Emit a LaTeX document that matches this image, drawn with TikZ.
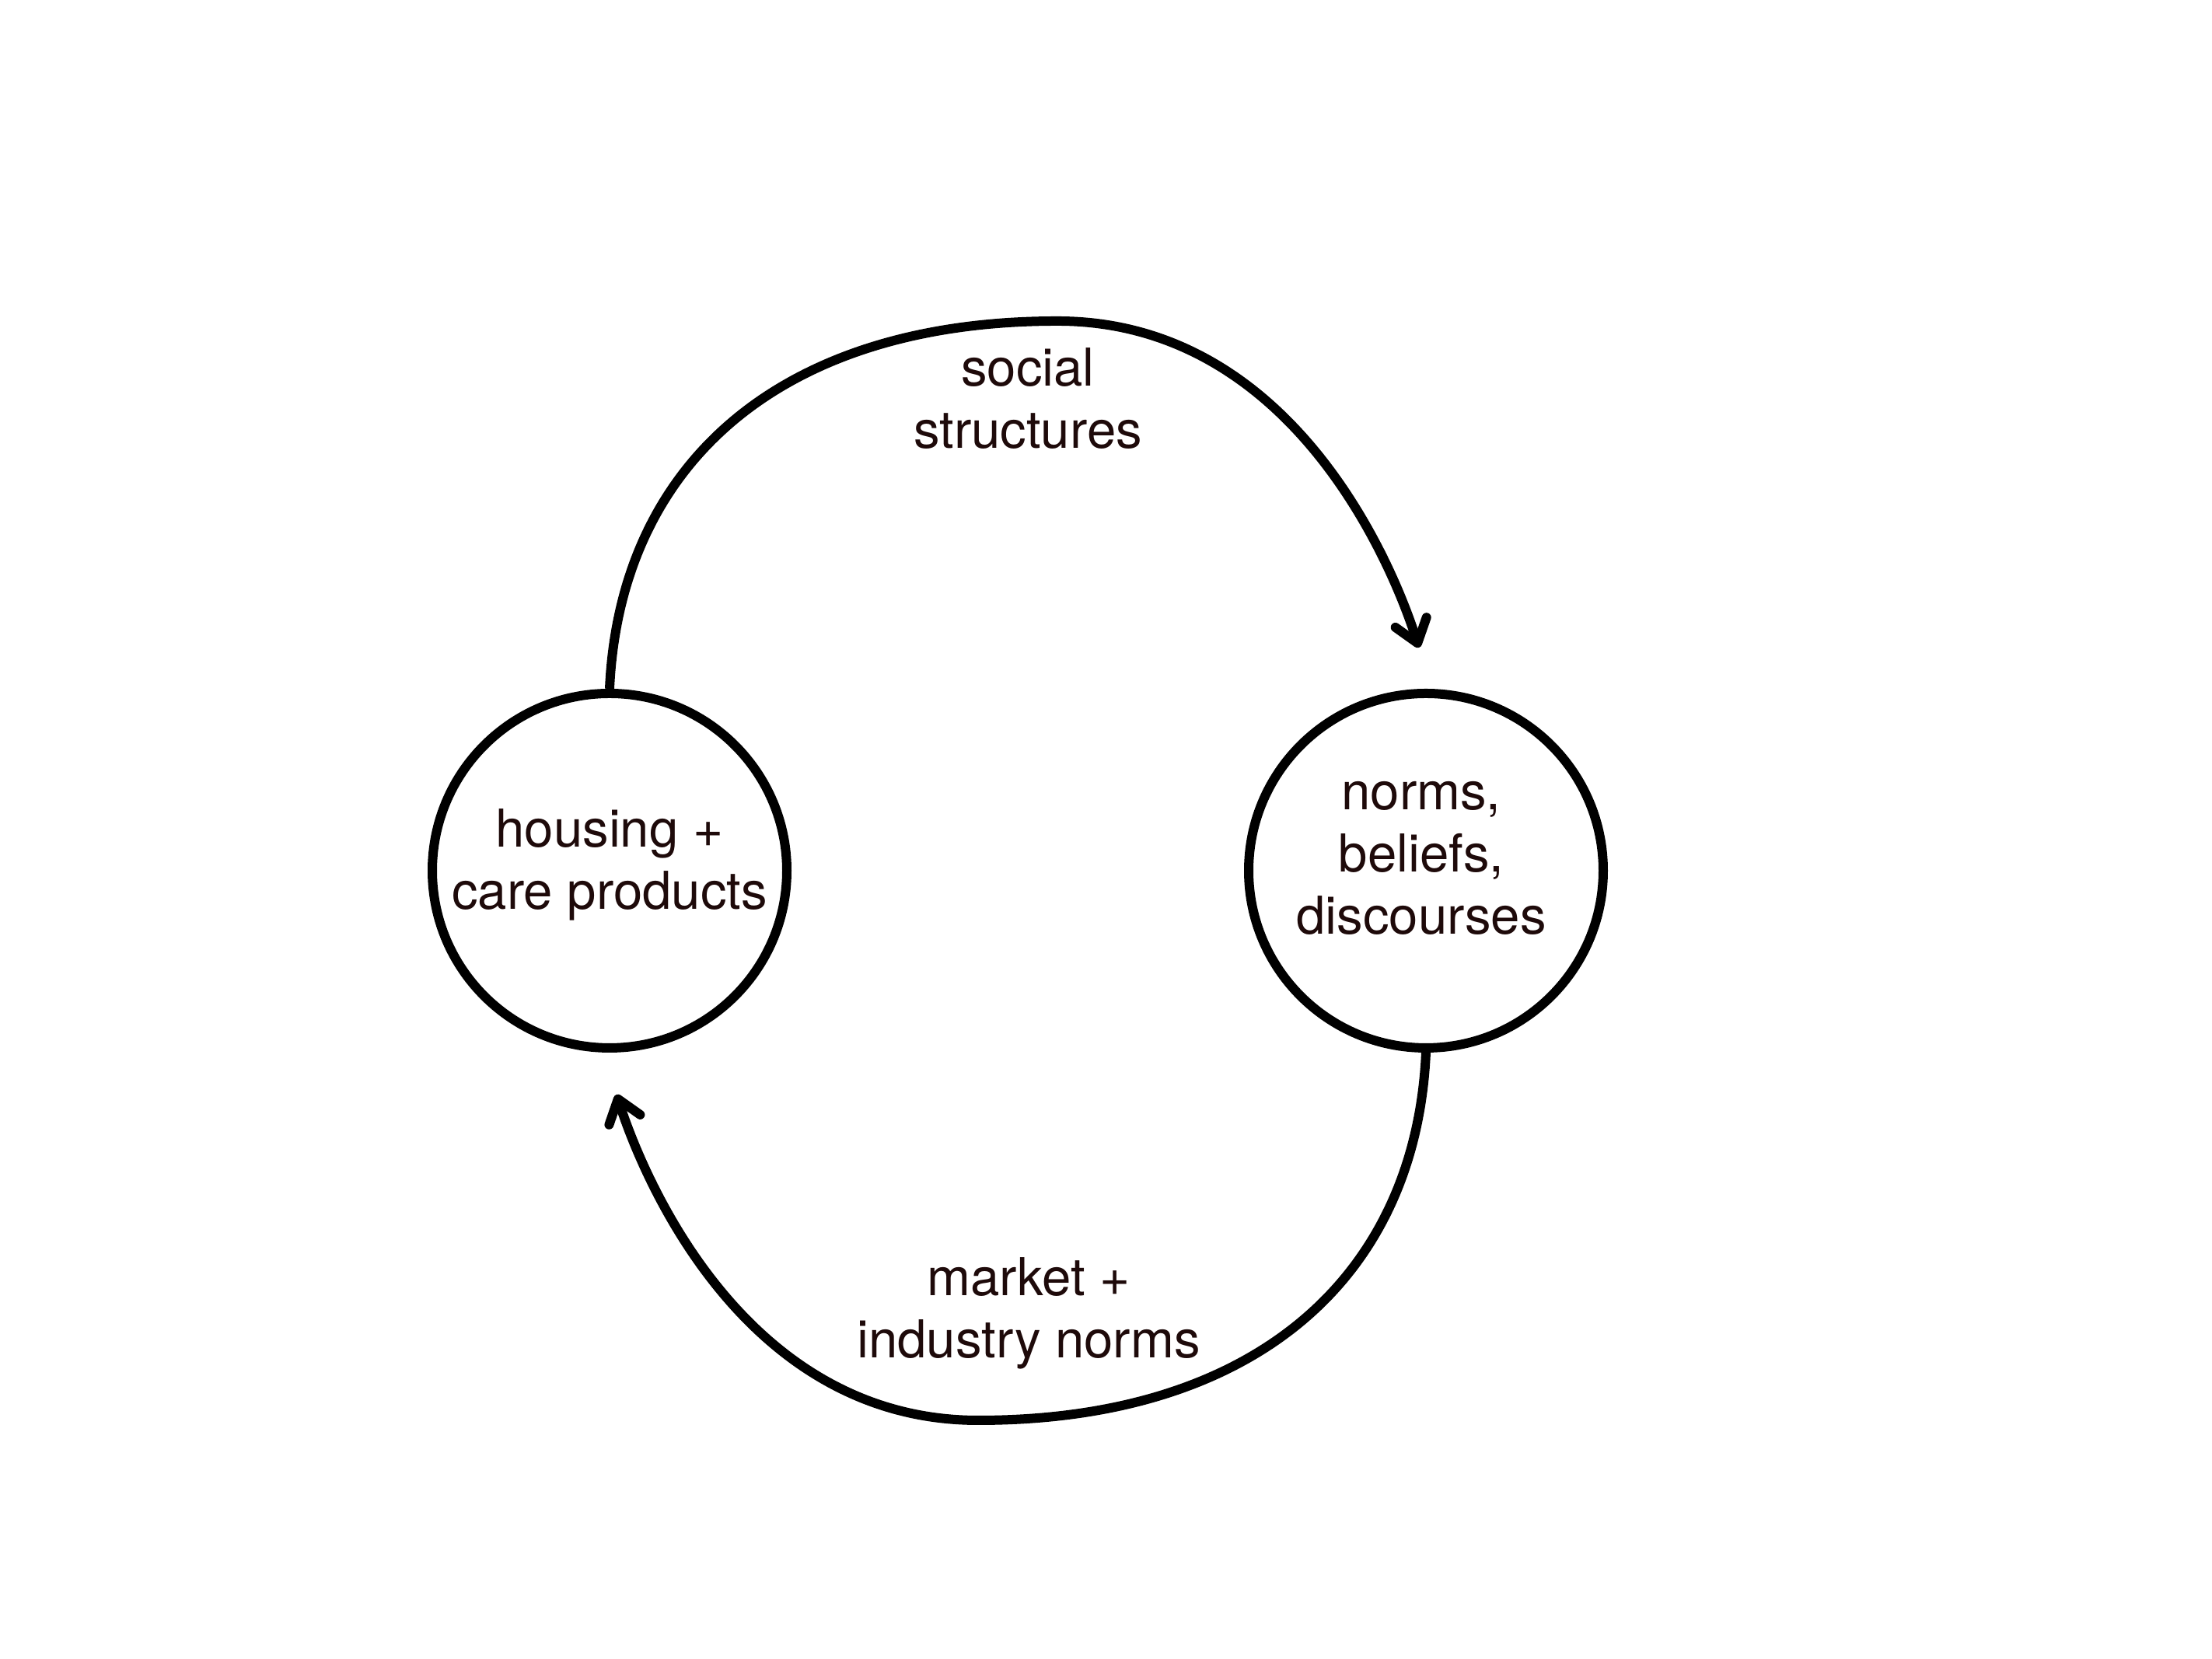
\documentclass[tikz,border=0pt]{standalone}
\usepackage{fontspec}
\setmainfont{TeX Gyre Heros}
\usetikzlibrary{arrows.meta}
\definecolor{txt}{RGB}{30,10,10}
\tikzset{
  circ/.style={circle, draw=black, line width=0.12cm, minimum size=4.56cm, inner sep=0pt},
  lbl/.style={text=txt, align=center, inner sep=0pt, font=\fontsize{19.1pt}{22.8pt}\selectfont, anchor=base},
  conn/.style={draw=black, line width=0.12cm, -{Straight Barb[length=0.28cm, width=0.42cm, round]}}
}
\begin{document}
\begin{tikzpicture}
\useasboundingbox (0,0) rectangle (28.45,21.34);
\fill[white] (0,0) rectangle (28.45,21.34);
\node[circ] (H) at (7.84,10.14) {};
\node[circ] (R) at (18.34,10.14) {};
\node[lbl] (Ht) at (7.84,9.64) {housing +\\care products};
\node[lbl] (Rt) at (18.28,9.32) {norms,\\beliefs,\\discourses};
\node[lbl] (St) at (13.22,15.57) {social\\structures};
\node[lbl] (Mt) at (13.23,3.87) {market +\\industry norms};
\coordinate (Rtip) at ([shift={(-0.09,0.53)}]R.north);
\coordinate (Htip) at ([shift={(0.09,-0.54)}]H.south);
\draw[conn] (H.north) .. controls (7.97,15.34) and (10.00,17.21) .. (13.60,17.21)
  .. controls (16.60,17.21) and (17.90,14.11) .. (Rtip);
\draw[conn] (R.south) .. controls (18.21,4.94) and (16.18,3.07) .. (12.58,3.07)
  .. controls (9.58,3.07) and (8.28,6.17) .. (Htip);
\end{tikzpicture}
\end{document}
